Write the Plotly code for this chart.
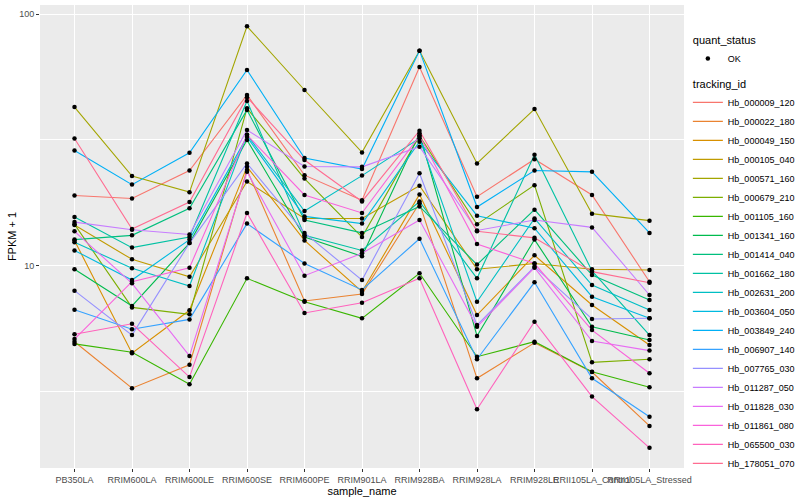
import plotly.graph_objects as go

samples = ["PB350LA", "RRIM600LA", "RRIM600LE", "RRIM600SE", "RRIM600PE",
           "RRIM901LA", "RRIM928BA", "RRIM928LA", "RRIM928LE",
           "RRII105LA_Control", "RRII105LA_Stressed"]

tracking_ids = ["Hb_000009_120", "Hb_000022_180", "Hb_000049_150", "Hb_000105_040",
                "Hb_000571_160", "Hb_000679_210", "Hb_001105_160", "Hb_001341_160",
                "Hb_001414_040", "Hb_001662_180", "Hb_002631_200", "Hb_003604_050",
                "Hb_003849_240", "Hb_006907_140", "Hb_007765_030", "Hb_011287_050",
                "Hb_011828_030", "Hb_011861_080", "Hb_065500_030", "Hb_178051_070"]

colors = ["#F8766D", "#EA8331", "#D89000", "#C09B00", "#A3A500", "#7CAE00", "#39B600",
          "#00BB4E", "#00BF7D", "#00C1A3", "#00BFC4", "#00BAE0", "#00B0F6", "#35A2FF",
          "#9590FF", "#C77CFF", "#E76BF3", "#FA62DB", "#FF62BC", "#FF6C91"]

# FPKM + 1 per sample, one list per tracking_id
hb_000009_120 = [19.0, 18.5, 23.9, 47.7, 22.9, 18.2, 61.6, 18.8, 26.5, 19.1, 8.64]
hb_000022_180 = [4.99, 3.26, 4.04, 24.0, 7.24, 7.72, 17.7, 3.57, 4.94, 3.78, 2.31]
hb_000049_150 = [12.6, 4.49, 6.65, 24.7, 12.6, 7.88, 19.2, 6.37, 11.0, 6.98, 4.84]
hb_000105_040 = [14.5, 10.6, 9.04, 21.6, 15.4, 15.4, 20.8, 9.68, 10.2, 9.68, 9.61]
hb_000571_160 = [42.7, 22.7, 19.6, 89.4, 49.9, 28.2, 71.5, 25.5, 41.9, 16.1, 15.1]
hb_000679_210 = [14.6, 6.83, 6.41, 42.2, 22.2, 13.0, 32.8, 14.6, 20.9, 4.13, 4.25]
hb_001105_160 = [4.89, 4.53, 3.38, 8.91, 7.19, 6.18, 9.33, 4.35, 4.99, 3.79, 3.29]
hb_001341_160 = [9.68, 6.92, 12.3, 31.6, 13.0, 10.9, 33.6, 5.26, 12.7, 5.72, 5.07]
hb_001414_040 = [12.7, 13.2, 16.9, 41.6, 15.2, 13.5, 17.2, 10.1, 16.7, 9.19, 7.31]
hb_001662_180 = [15.6, 11.8, 13.0, 45.1, 13.2, 11.5, 18.0, 8.91, 27.6, 9.53, 5.30]
hb_002631_200 = [12.4, 9.77, 8.31, 33.1, 16.5, 22.8, 32.1, 7.19, 15.4, 8.38, 6.67]
hb_003604_050 = [11.5, 8.77, 12.7, 32.5, 15.7, 14.7, 31.1, 15.8, 14.1, 7.53, 6.18]
hb_003849_240 = [28.7, 21.0, 28.1, 59.9, 26.8, 24.2, 71.5, 17.1, 23.9, 23.6, 13.5]
hb_006907_140 = [6.69, 5.59, 6.12, 14.7, 10.2, 8.01, 12.8, 4.25, 8.59, 3.57, 2.51]
hb_007765_030 = [7.96, 5.30, 12.3, 25.5, 13.5, 8.77, 23.3, 5.81, 9.91, 6.14, 6.18]
hb_011287_050 = [14.9, 13.9, 13.3, 34.6, 24.8, 24.7, 29.7, 13.8, 15.2, 14.2, 7.65]
hb_011828_030 = [13.7, 8.51, 4.38, 23.6, 9.13, 11.2, 15.2, 5.72, 9.82, 5.02, 4.60]
hb_011861_080 = [5.11, 8.64, 9.82, 33.1, 19.1, 16.2, 32.8, 12.2, 10.2, 5.55, 3.74]
hb_065500_030 = [5.34, 5.88, 3.61, 16.2, 6.49, 7.13, 8.91, 2.69, 5.99, 3.02, 1.89]
hb_178051_070 = [32.0, 14.0, 17.9, 46.7, 26.3, 18.0, 34.4, 13.7, 12.9, 9.47, 8.56]

series = [hb_000009_120, hb_000022_180, hb_000049_150, hb_000105_040, hb_000571_160,
          hb_000679_210, hb_001105_160, hb_001341_160, hb_001414_040, hb_001662_180,
          hb_002631_200, hb_003604_050, hb_003849_240, hb_006907_140, hb_007765_030,
          hb_011287_050, hb_011828_030, hb_011861_080, hb_065500_030, hb_178051_070]

FONT = "Liberation Sans"
fig = go.Figure()

for i, (tid, col, vals) in enumerate(zip(tracking_ids, colors, series)):
    fig.add_trace(go.Scatter(
        x=samples, y=vals, mode="lines", name=tid,
        line=dict(color=col, width=1.1),
        legendgroup="tracking_id",
        legendgrouptitle=dict(text="tracking_id", font=dict(size=11, color="black")),
        legendrank=10 + i,
    ))

all_x = [s for vals in series for s in samples]
all_y = [v for vals in series for v in vals]
fig.add_trace(go.Scatter(
    x=all_x, y=all_y, mode="markers", name="OK",
    marker=dict(color="black", size=4.5),
    legendgroup="quant_status",
    legendgrouptitle=dict(text="quant_status", font=dict(size=11, color="black")),
    legendrank=1,
))

fig.update_layout(
    width=800, height=500,
    margin=dict(l=40, r=116, t=5, b=32, autoexpand=False),
    paper_bgcolor="white", plot_bgcolor="#EBEBEB",
    font=dict(family=FONT, size=9, color="#4D4D4D"),
    showlegend=True,
    legend=dict(
        x=1.006, xanchor="left", y=0.957, yanchor="top",
        traceorder="grouped", tracegroupgap=6,
        font=dict(size=9, color="black"), bgcolor="rgba(0,0,0,0)",
        itemwidth=30,
    ),
    xaxis=dict(
        type="category", categoryorder="array", categoryarray=samples,
        range=[-0.6, 10.6], tickangle=0,
        showgrid=True, gridcolor="white", gridwidth=1.1,
        ticks="outside", ticklen=3, tickcolor="#333333", tickwidth=1,
        tickfont=dict(size=9, color="#4D4D4D", family=FONT),
        showline=False, zeroline=False, automargin=False,
        title=dict(text="sample_name", font=dict(size=11, color="black", family=FONT), standoff=3),
    ),
    yaxis=dict(
        type="log", range=[0.1963, 2.0358],
        tickvals=[10, 100], ticktext=["10", "100"],
        showgrid=True, gridcolor="white", gridwidth=1.1,
        minor=dict(tickvals=[10 ** 0.5, 10 ** 1.5], showgrid=True,
                   gridcolor="white", gridwidth=0.5, ticks=""),
        ticks="outside", ticklen=3, tickcolor="#333333", tickwidth=1,
        tickfont=dict(size=9, color="#4D4D4D", family=FONT),
        showline=False, zeroline=False, automargin=False,
        title=dict(text="FPKM + 1", font=dict(size=11, color="black", family=FONT), standoff=0),
    ),
)

fig.write_html("out.html", config={"displayModeBar": False},
               post_script="document.body.style.margin='0';")
